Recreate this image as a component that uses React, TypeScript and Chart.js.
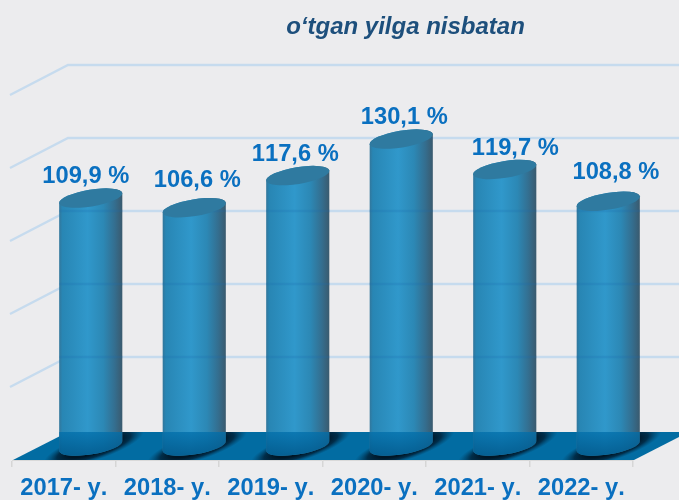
import React, { useEffect, useRef } from "react";
import { Chart, registerables } from "chart.js";

Chart.register(...registerables);

const categories = ["2017- y.", "2018- y.", "2019- y.", "2020- y.", "2021- y.", "2022- y."];
const values = [109.9, 106.6, 117.6, 130.1, 119.7, 108.8];
const titleText = "o‘tgan yilga nisbatan";
const axisMin = 25;
const axisMax = 150;
const axisStep = 25;
const labelNudgeX = [-5, 3, -2.5, 3, 10.5, 7.7];
const labelNudgeY = [0, -6, 0, 0, 1, -7];

const BG = "#ECECEE";
const LABEL = "#0A70C0";
const DX = 56;
const DY = 28;
const TILT = -0.16;
const RY = 8.4;

const fmt = (v: number) => v.toFixed(1).replace(".", ",") + " %";

const scene = {
  id: "scene",
  beforeDraw(chart: any) {
    chart.ctx.fontKerning = "none";
  },
  beforeDatasetsDraw(chart: any) {
    const { ctx, chartArea: a, scales } = chart;
    const y = scales.y;
    ctx.save();
    // walls
    ctx.strokeStyle = "#C6DBEE";
    ctx.lineWidth = 2.4;
    y.ticks.forEach((t: any) => {
      if (t.value === y.min) return;
      const py = y.getPixelForValue(t.value);
      ctx.beginPath();
      ctx.moveTo(a.left - 2, py);
      ctx.lineTo(a.left + DX, py - DY - 2);
      ctx.lineTo(chart.width, py - DY - 2);
      ctx.stroke();
    });
    // floor
    const fl = new Path2D();
    fl.moveTo(a.left + 1, a.bottom);
    fl.lineTo(a.right + 1, a.bottom);
    fl.lineTo(a.right + DX, a.bottom - DY);
    fl.lineTo(a.left + DX, a.bottom - DY);
    fl.closePath();
    ctx.fillStyle = "#026CA2";
    ctx.fill(fl);
    ctx.save();
    ctx.clip(fl);
    const meta = chart.getDatasetMeta(0);
    meta.data.forEach((b: any) => {
      const cx = b.x + DX / 2 + 2;
      const cy = b.base - DY / 2 + 1;
      ctx.save();
      ctx.translate(cx, cy);
      ctx.transform(1, -0.3, 0, 0.28, 0, 0);
      const g = ctx.createRadialGradient(0, 0, 26, 0, 0, 50);
      g.addColorStop(0, "rgba(0,22,38,1)");
      g.addColorStop(0.45, "rgba(0,30,52,0.8)");
      g.addColorStop(1, "rgba(0,60,95,0)");
      ctx.fillStyle = g;
      ctx.beginPath();
      ctx.arc(0, 0, 50, 0, Math.PI * 2);
      ctx.fill();
      ctx.restore();
    });
    ctx.restore();
    ctx.restore();
  },
  beforeDatasetDraw() {
    return false;
  },
  afterDatasetsDraw(chart: any) {
    const { ctx, chartArea: a, scales } = chart;
    const y = scales.y;
    const meta = chart.getDatasetMeta(0);
    meta.data.forEach((b: any, i: number) => {
      const half = b.width / 2;
      const cx = b.x + DX / 2 - 1;
      const rx = half / Math.cos(TILT);
      const top = b.y - DY / 2;
      const bot = b.base - DY / 2;
      const body = new Path2D();
      body.ellipse(cx, bot, rx, RY, TILT, 0, Math.PI);
      body.ellipse(cx, top, rx, RY, TILT, Math.PI, Math.PI * 2);
      body.closePath();
      const g = ctx.createLinearGradient(cx - half, 0, cx + half, 0);
      g.addColorStop(0, "rgb(50,118,155)");
      g.addColorStop(0.05, "rgb(40,134,180)");
      g.addColorStop(0.45, "rgb(48,152,203)");
      g.addColorStop(0.7, "rgb(44,136,181)");
      g.addColorStop(0.88, "rgb(52,110,143)");
      g.addColorStop(1, "rgb(58,90,110)");
      ctx.fillStyle = g;
      ctx.fill(body);
      ctx.save();
      ctx.clip(body);
      // wall lines seen through the bar
      ctx.strokeStyle = "rgba(25,105,175,0.2)";
      ctx.lineWidth = 2.4;
      y.ticks.forEach((t: any) => {
        if (t.value === y.min) return;
        const py = y.getPixelForValue(t.value) - DY - 2;
        ctx.beginPath();
        ctx.moveTo(cx - half - 2, py);
        ctx.lineTo(cx + half + 2, py);
        ctx.stroke();
      });
      // part standing on the floor
      const fg = ctx.createLinearGradient(0, a.bottom - DY, 0, a.bottom);
      fg.addColorStop(0, "rgba(0,110,170,0.75)");
      fg.addColorStop(1, "rgba(0,85,135,0.9)");
      ctx.fillStyle = fg;
      ctx.fillRect(cx - half - 2, a.bottom - DY, b.width + 4, DY + 4);
      ctx.restore();
      // top cap
      ctx.beginPath();
      ctx.ellipse(cx, top, rx, RY, TILT, 0, Math.PI * 2);
      ctx.fillStyle = "#2F7AA0";
      ctx.fill();
      // value label
      ctx.font = "bold 23.7px 'Liberation Sans'";
      ctx.fillStyle = LABEL;
      ctx.textAlign = "center";
      ctx.textBaseline = "alphabetic";
      ctx.fillText(fmt(values[i]), cx + labelNudgeX[i], top - 15 + labelNudgeY[i]);
    });
  },
  afterLayout(chart: any) {
    if (chart.titleBlock) {
      chart.titleBlock.left += 83;
      chart.titleBlock.right += 83;
    }
  },
};

export default function App() {
  const ref = useRef<HTMLCanvasElement>(null);
  useEffect(() => {
    document.body.style.background = BG;
    const chart = new Chart(ref.current as HTMLCanvasElement, {
      type: "bar",
      data: {
        labels: categories,
        datasets: [{ label: titleText, data: values, base: axisMin, backgroundColor: "#2F97CB", barPercentage: 0.61, categoryPercentage: 1 }],
      },
      plugins: [scene],
      options: {
        responsive: false,
        animation: false,
        layout: { padding: { left: 12, right: 46, top: 0, bottom: 0 } },
        plugins: {
          legend: { display: false },
          tooltip: { enabled: false },
          title: {
            display: true,
            text: titleText,
            align: "center",
            color: "#1D4F7C",
            font: { family: "'Liberation Sans'", size: 24, weight: "bold", style: "italic", lineHeight: 1.2 },
            padding: { top: 13, bottom: 53.2 },
          },
        },
        scales: {
          x: {
            afterFit: (s: any) => { s.height = 40; },
            border: { color: "#D9D9D9" },
            grid: { drawOnChartArea: false, drawTicks: true, tickLength: 7, color: "#D6D6D6", lineWidth: 1.5 },
            ticks: { color: LABEL, font: { family: "'Liberation Sans'", size: 23.7, weight: "bold" }, maxRotation: 0, autoSkip: false, padding: 7 },
          },
          y: { display: false, min: axisMin, max: axisMax, ticks: { stepSize: axisStep } },
        },
      } as any,
    });
    return () => chart.destroy();
  }, []);
  return (
    <div style={{ position: "absolute", left: 0, top: 0, width: 679, height: 500, background: BG, overflow: "hidden" }}>
      <canvas ref={ref} width={679} height={500} style={{ display: "block" }} />
    </div>
  );
}
